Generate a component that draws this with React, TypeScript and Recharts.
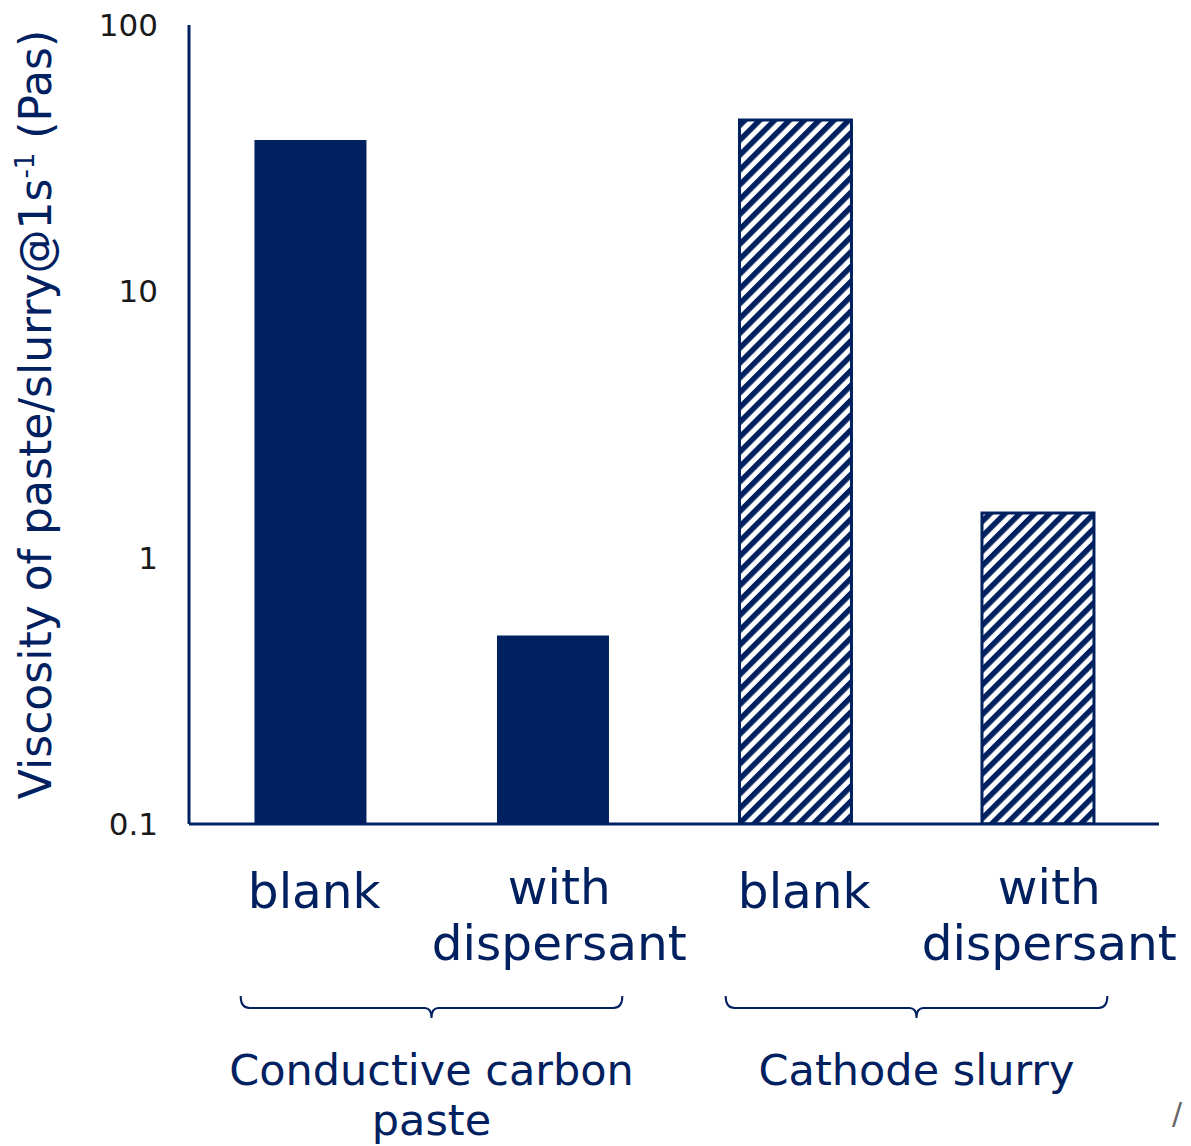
import { BarChart, Bar, Cell, XAxis, YAxis } from 'recharts'

const categories = ['blank', 'with dispersant', 'blank', 'with dispersant']
const groups = ['Conductive carbon paste', 'Conductive carbon paste', 'Cathode slurry', 'Cathode slurry']
const viscosity = [37, 0.51, 44, 1.47]
const yTicks = [0.1, 1, 10, 100]

const NAVY = '#002060'
const FONT = '"DejaVu Sans", Verdana, sans-serif'

const data = categories.map((c, i) => ({ label: c, group: groups[i], value: viscosity[i] }))

function wrap(text: string, max: number) {
  const words = text.split(' ')
  const lines: string[] = []
  let cur = ''
  for (const w of words) {
    if (cur && (cur + ' ' + w).length > max) {
      lines.push(cur)
      cur = w
    } else {
      cur = cur ? cur + ' ' + w : w
    }
  }
  if (cur) lines.push(cur)
  return lines
}

function CategoryTick({ x, y, payload, index }: any) {
  const lines = wrap(payload.value, 10)
  const first = lines.length > 1 ? 80 : 84
  const cx = x + 4 + (index || 0) * 2.5
  return (
    <text x={cx} y={y} textAnchor="middle" fill={NAVY} fontSize={48.5} fontFamily={FONT}>
      {lines.map((l, i) => (
        <tspan key={i} x={cx} dy={i === 0 ? first : 56}>{l}</tspan>
      ))}
    </text>
  )
}

function GroupTick({ x, y, payload }: any) {
  const lines = wrap(payload.value, 18)
  const half = (payload.offset ? payload.offset : 242) * 0.787
  const y0 = y + 12
  const y1 = y + 24
  const y2 = y + 34
  const d = `M${x - half},${y0} Q${x - half},${y1} ${x - half + 9},${y1} L${x - 7},${y1} Q${x},${y1} ${x},${y2} Q${x},${y1} ${x + 7},${y1} L${x + half - 9},${y1} Q${x + half},${y1} ${x + half},${y0}`
  return (
    <g>
      <path d={d} fill="none" stroke={NAVY} strokeWidth={2} />
      <text x={x} y={y} textAnchor="middle" fill={NAVY} fontSize={43} fontFamily={FONT}>
        {lines.map((l, i) => (
          <tspan key={i} x={x} dy={i === 0 ? 101 : 50}>{l}</tspan>
        ))}
      </text>
    </g>
  )
}

function ValueTick({ x, y, payload }: any) {
  return (
    <text x={x} y={y} dy={11} textAnchor="end" fill="#1a1a1a" fontSize={31} fontFamily={FONT}>
      {payload.value}
    </text>
  )
}

function YLabel({ viewBox }: any) {
  const cy = viewBox.y + viewBox.height / 2 - 10
  const cx = 51
  return (
    <text
      x={cx}
      y={cy}
      transform={`rotate(-90, ${cx}, ${cy})`}
      textAnchor="middle"
      fill={NAVY}
      fontSize={44}
      fontFamily={FONT}
    >
      Viscosity of paste/slurry@1s
      <tspan dy={-17} fontSize={26}>-1</tspan>
      <tspan dy={17}> (Pas)</tspan>
    </text>
  )
}

export default function App() {
  return (
    <div style={{ position: 'absolute', left: 0, top: 0, width: 1191, height: 1146, background: '#fff' }}>
      <BarChart
        width={1191}
        height={1146}
        data={data}
        margin={{ top: 25, right: 32, left: 0, bottom: 0 }}
        barCategoryGap="27%"
      >
        <defs>
          <pattern id="hatch" patternUnits="userSpaceOnUse" width={10.5} height={10.5} patternTransform="rotate(45)">
            <rect x={0} y={0} width={10.5} height={10.5} fill="#fff" />
            <rect x={0} y={0} width={5.5} height={10.5} fill={NAVY} />
          </pattern>
        </defs>
        <XAxis
          dataKey="label"
          height={160}
          interval={0}
          tickLine={false}
          tickSize={0}
          tickMargin={0}
          axisLine={{ stroke: NAVY, strokeWidth: 3 }}
          tick={<CategoryTick />}
        />
        <XAxis
          xAxisId="group"
          dataKey="group"
          allowDuplicatedCategory={false}
          height={162}
          interval={0}
          tickLine={false}
          tickSize={0}
          tickMargin={0}
          axisLine={false}
          tick={<GroupTick />}
        />
        <YAxis
          width={189}
          scale="log"
          type="number"
          domain={[0.1, 100]}
          ticks={yTicks}
          allowDataOverflow
          tickLine={false}
          tickSize={0}
          tickMargin={31}
          axisLine={{ stroke: NAVY, strokeWidth: 3 }}
          tick={<ValueTick />}
          label={<YLabel />}
        />
        <Bar dataKey="value" isAnimationActive={false}>
          {data.map((d, i) =>
            d.group === 'Cathode slurry' ? (
              <Cell key={i} fill="url(#hatch)" stroke={NAVY} strokeWidth={3} />
            ) : (
              <Cell key={i} fill={NAVY} />
            )
          )}
        </Bar>
      </BarChart>
      <div style={{ position: 'absolute', left: 1172, top: 1096, fontSize: 30, color: '#666', fontFamily: FONT }}>/</div>
    </div>
  )
}
